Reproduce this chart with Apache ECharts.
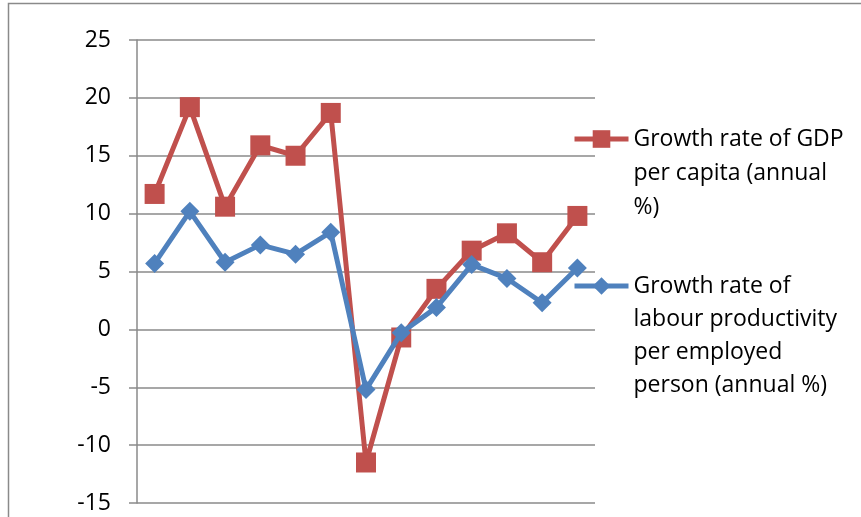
<!DOCTYPE html>
<html>
<head>
<meta charset="utf-8">
<script src="https://cdn.jsdelivr.net/npm/echarts@6/dist/echarts.min.js"></script>
<style>
  html, body { margin: 0; padding: 0; background: #fff; }
  #main { width: 861px; height: 517px; }
</style>
</head>
<body>
<div id="main"></div>
<script>
const categories = ['1', '2', '3', '4', '5', '6', '7', '8', '9', '10', '11', '12', '13']
const gdpName = 'Growth rate of GDP per capita (annual %)'
const labourName = 'Growth rate of labour productivity per employed person (annual %)'
const gdpData = [11.7, 19.2, 10.6, 15.9, 15.0, 18.7, -11.5, -0.7, 3.5, 6.8, 8.3, 5.8, 9.8]
const labourData = [5.7, 10.2, 5.8, 7.3, 6.5, 8.4, -5.2, -0.3, 1.9, 5.6, 4.4, 2.3, 5.3]
// legend labels wrapped like the original, blank lines keep the icon on the first line
const gdpLabel = '\n\nGrowth rate of GDP\nper capita (annual\n%)'
const labourLabel = '\n\n\nGrowth rate of\nlabour productivity\nper employed\nperson (annual %)'

const gridColor = '#8a8a8a'
const font = 'Open Sans'

const chart = echarts.init(document.getElementById('main'))

const legendBase = {
  orient: 'vertical',
  left: 572,
  padding: 0,
  itemWidth: 54,
  itemHeight: 22,
  itemGap: 0,
  lineStyle: { width: 5 }
}

const option = {
  animation: false,
  backgroundColor: '#fff',
  textStyle: { fontFamily: font },
  graphic: [
    {
      type: 'rect',
      shape: { x: 8.5, y: 3.5, width: 1000, height: 1000 },
      style: { fill: 'none', stroke: gridColor, lineWidth: 1.5 },
      silent: true
    }
  ],
  legend: [
    {
      ...legendBase,
      data: [gdpName],
      top: 139 - 85,
      formatter: () => gdpLabel,
      textStyle: { color: '#000', fontSize: 23, fontFamily: font, lineHeight: 34 }
    },
    {
      ...legendBase,
      data: [labourName],
      top: 286 - 115.5,
      formatter: () => labourLabel,
      textStyle: { color: '#000', fontSize: 23, fontFamily: font, lineHeight: 33 }
    }
  ],
  grid: {
    left: 137,
    right: 266,
    top: 40,
    bottom: 14
  },
  xAxis: {
    type: 'category',
    data: categories,
    boundaryGap: true,
    axisLine: { show: false },
    axisTick: { show: false },
    axisLabel: { show: false },
    splitLine: { show: false }
  },
  yAxis: {
    type: 'value',
    min: -15,
    max: 25,
    interval: 5,
    axisLine: { show: true, lineStyle: { color: gridColor, width: 1.5 } },
    axisTick: { show: true, inside: false, length: 8, lineStyle: { color: gridColor, width: 1.5 } },
    axisLabel: { color: '#000', fontSize: 23, fontFamily: font, margin: 26 },
    splitLine: { show: true, lineStyle: { color: gridColor, width: 1.5 } }
  },
  series: [
    {
      name: gdpName,
      type: 'line',
      data: gdpData,
      symbol: 'rect',
      symbolSize: 20,
      z: 2,
      lineStyle: { color: '#C0504D', width: 5 },
      itemStyle: { color: '#C0504D' }
    },
    {
      name: labourName,
      type: 'line',
      data: labourData,
      symbol: 'diamond',
      symbolSize: 19,
      z: 3,
      lineStyle: { color: '#4F81BD', width: 5 },
      itemStyle: { color: '#4F81BD' }
    }
  ]
}

chart.setOption(option)
</script>
</body>
</html>
